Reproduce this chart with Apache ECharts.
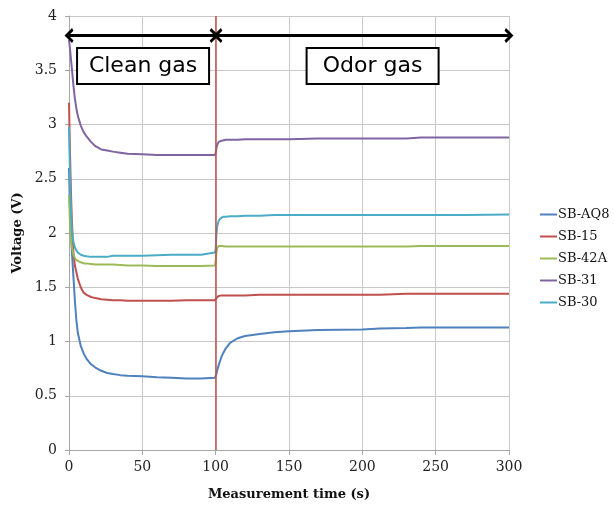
<!DOCTYPE html>
<html>
<head>
<meta charset="utf-8">
<script src="https://cdn.jsdelivr.net/npm/echarts@6/dist/echarts.min.js"></script>
<style>html,body{margin:0;padding:0;background:#fff}#c{width:614px;height:507px}</style>
</head>
<body>
<div id="c"></div>
<script>
// Measurement time (s)
const time = [0, 0.5, 1, 1.5, 2, 3, 4, 5, 6, 8, 10, 12, 15, 18, 22, 26, 30, 35, 40, 50, 60, 70, 80, 90, 99.5,
  100, 100.5, 101, 102, 103, 104, 105, 107, 110, 115, 120, 130, 140, 150, 170, 200, 201, 212, 213, 230, 240, 250, 270, 300];
const seriesNames = ['SB-AQ8', 'SB-15', 'SB-42A', 'SB-31', 'SB-30'];
const sbAQ8 = [2.6, 2.3, 2.1, 1.95, 1.82, 1.6, 1.38, 1.2, 1.08, 0.96, 0.89, 0.84, 0.79, 0.76, 0.73, 0.71, 0.70, 0.69, 0.685, 0.68, 0.67, 0.665, 0.66, 0.66, 0.665,
  0.67, 0.70, 0.73, 0.78, 0.82, 0.86, 0.89, 0.94, 0.99, 1.03, 1.05, 1.07, 1.085, 1.095, 1.105, 1.11, 1.12, 1.12, 1.12, 1.125, 1.13, 1.13, 1.13, 1.13];
const sb15 = [3.2, 2.85, 2.55, 2.3, 2.1, 1.82, 1.70, 1.64, 1.58, 1.50, 1.45, 1.43, 1.41, 1.40, 1.39, 1.385, 1.38, 1.38, 1.375, 1.375, 1.375, 1.375, 1.38, 1.38, 1.38,
  1.385, 1.40, 1.41, 1.42, 1.425, 1.425, 1.425, 1.425, 1.425, 1.425, 1.425, 1.43, 1.43, 1.43, 1.43, 1.43, 1.43, 1.43, 1.44, 1.44, 1.44, 1.44, 1.44, 1.44];
const sb42A = [2.35, 2.15, 2.0, 1.92, 1.87, 1.80, 1.77, 1.75, 1.74, 1.73, 1.72, 1.72, 1.715, 1.71, 1.71, 1.71, 1.71, 1.705, 1.70, 1.70, 1.695, 1.695, 1.695, 1.695, 1.70,
  1.74, 1.82, 1.86, 1.88, 1.885, 1.88, 1.875, 1.875, 1.875, 1.875, 1.875, 1.875, 1.875, 1.875, 1.875, 1.875, 1.875, 1.875, 1.875, 1.875, 1.88, 1.88, 1.88, 1.88];
const sb31 = [3.78, 3.72, 3.65, 3.58, 3.51, 3.36, 3.24, 3.15, 3.08, 2.99, 2.93, 2.89, 2.84, 2.80, 2.77, 2.76, 2.75, 2.74, 2.73, 2.725, 2.72, 2.72, 2.72, 2.72, 2.72,
  2.74, 2.78, 2.81, 2.84, 2.85, 2.85, 2.86, 2.86, 2.86, 2.86, 2.865, 2.865, 2.865, 2.865, 2.87, 2.87, 2.87, 2.87, 2.87, 2.87, 2.88, 2.88, 2.88, 2.88];
const sb30 = [2.98, 2.65, 2.35, 2.15, 2.02, 1.92, 1.87, 1.84, 1.82, 1.80, 1.79, 1.785, 1.78, 1.78, 1.78, 1.78, 1.79, 1.79, 1.79, 1.79, 1.795, 1.80, 1.80, 1.80, 1.82,
  1.85, 1.98, 2.06, 2.11, 2.13, 2.14, 2.15, 2.15, 2.155, 2.155, 2.16, 2.16, 2.165, 2.165, 2.165, 2.165, 2.165, 2.165, 2.165, 2.165, 2.165, 2.165, 2.165, 2.17];
const colors = ['#4F81BD', '#C0504D', '#9BBB59', '#8064A2', '#4BACC6'];
const gasChange = 100;
const arrowLevel = 3.82;
const boxLevel = 3.54;
const phaseLabels = ['Clean gas', 'Odor gas'];
const phaseCenters = [50.5, 207];
const phaseSpans = [[0, 99], [101.5, 300]];

const allValues = [sbAQ8, sb15, sb42A, sb31, sb30];
const chevron = 'path://M0,10 L10,0 L20,10 L16.5,12 L10,5.5 L3.5,12 Z';

const series = seriesNames.map((name, i) => ({
  name: name,
  type: 'line',
  showSymbol: false,
  symbol: 'none',
  smooth: false,
  lineStyle: { width: 2, color: colors[i] },
  itemStyle: { color: colors[i] },
  emphasis: { disabled: true },
  data: time.map((t, k) => [t, allValues[i][k]])
}));

const arrowLines = phaseSpans.map(s => [
  { coord: [s[0], arrowLevel], symbol: chevron, symbolSize: [15, 9], lineStyle: { color: '#000', width: 3, type: 'solid' } },
  { coord: [s[1], arrowLevel], symbol: chevron, symbolSize: [15, 9] }
]);

series[4].markLine = {
  silent: true,
  animation: false,
  label: { show: false },
  emphasis: { disabled: true },
  data: [
    [{ coord: [gasChange, 0], symbol: 'none', lineStyle: { color: '#C0504D', width: 1.5, type: 'solid' } },
     { coord: [gasChange, 4], symbol: 'none' }]
  ].concat(arrowLines)
};
series[4].markPoint = {
  silent: true,
  animation: false,
  data: phaseLabels.map((lab, i) => ({
    coord: [phaseCenters[i], boxLevel],
    symbol: 'rect',
    symbolSize: 1,
    itemStyle: { color: 'rgba(0,0,0,0)' },
    label: {
      show: true, formatter: lab, position: 'inside',
      fontFamily: 'DejaVu Sans', fontSize: 22, color: '#000',
      backgroundColor: '#fff', borderColor: '#000', borderWidth: 2,
      width: 110, height: 26, lineHeight: 26, align: 'center', verticalAlign: 'middle',
      padding: [4, 10, 4, 10]
    }
  }))
};

const chart = echarts.init(document.getElementById('c'), null, { renderer: 'canvas' });
chart.setOption({
  animation: false,
  backgroundColor: '#fff',
  color: colors,
  grid: { left: 69, right: 105, top: 16, bottom: 57, containLabel: false },
  legend: {
    orient: 'vertical',
    left: 535,
    top: 203,
    icon: 'rect',
    itemWidth: 17,
    itemHeight: 2,
    itemGap: 9,
    textStyle: { fontFamily: 'DejaVu Serif', fontSize: 13, color: '#111', padding: [0, 0, 0, -4] },
    data: seriesNames
  },
  xAxis: {
    type: 'value', min: 0, max: 300, interval: 50,
    name: 'Measurement time (s)', nameLocation: 'middle', nameGap: 38,
    nameTextStyle: { fontFamily: 'DejaVu Serif', fontWeight: 'bold', fontSize: 13, color: '#111' },
    axisLine: { lineStyle: { color: '#a6a6a6' } },
    axisTick: { show: true, length: 5, lineStyle: { color: '#a6a6a6' } },
    axisLabel: { fontFamily: 'DejaVu Serif', fontSize: 14, color: '#222', margin: 10 },
    splitLine: { show: true, lineStyle: { color: '#c8c8c8', width: 1 } }
  },
  yAxis: {
    type: 'value', min: 0, max: 4, interval: 0.5,
    name: 'Voltage (V)', nameLocation: 'middle', nameGap: 40,
    nameTextStyle: { fontFamily: 'DejaVu Serif', fontWeight: 'bold', fontSize: 13, color: '#111' },
    axisLine: { show: true, lineStyle: { color: '#a6a6a6' } },
    axisTick: { show: true, length: 4, lineStyle: { color: '#a6a6a6' } },
    axisLabel: { fontFamily: 'DejaVu Serif', fontSize: 14, color: '#222', margin: 12 },
    splitLine: { show: true, lineStyle: { color: '#c8c8c8', width: 1 } }
  },
  series: series
});
</script>
</body>
</html>
